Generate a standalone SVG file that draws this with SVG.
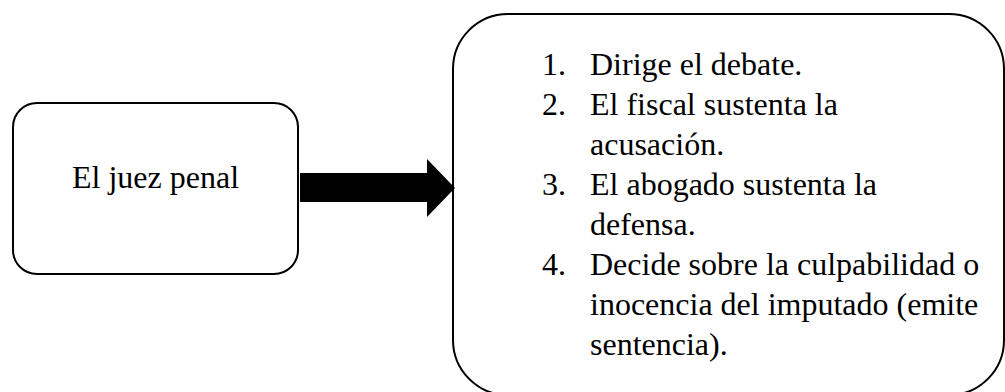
<svg xmlns="http://www.w3.org/2000/svg" width="1005" height="392" viewBox="0 0 1005 392">
<style>
.box{fill:#fff;stroke:#000;stroke-width:2}
.t{font-family:"Liberation Serif","Times New Roman",serif;font-size:32px;fill:#000}
</style>
<rect width="1005" height="392" fill="#fff"/>
<g id="node-juez">
<rect class="box" x="13" y="103" width="285" height="171" rx="24" ry="24"/>
<text class="t" x="155.5" y="188" text-anchor="middle">El juez penal</text>
</g>
<g id="node-funciones">
<rect class="box" x="453" y="14" width="551" height="381" rx="55" ry="55"/>
<text class="t">
<tspan x="542" y="75">1.</tspan><tspan x="590" y="75">Dirige el debate.</tspan>
<tspan x="542" y="115">2.</tspan><tspan x="590" y="115">El fiscal sustenta la</tspan>
<tspan x="590" y="155">acusación.</tspan>
<tspan x="542" y="195">3.</tspan><tspan x="590" y="195">El abogado sustenta la</tspan>
<tspan x="590" y="235">defensa.</tspan>
<tspan x="542" y="275">4.</tspan><tspan x="590" y="275">Decide sobre la culpabilidad o</tspan>
<tspan x="590" y="315">inocencia del imputado (emite</tspan>
<tspan x="590" y="355">sentencia).</tspan>
</text>
</g>
<g id="connectors">
<polygon points="300,173 427,173 427,159 455,188 427,217 427,202 300,202" fill="#000"/>
</g>
</svg>
